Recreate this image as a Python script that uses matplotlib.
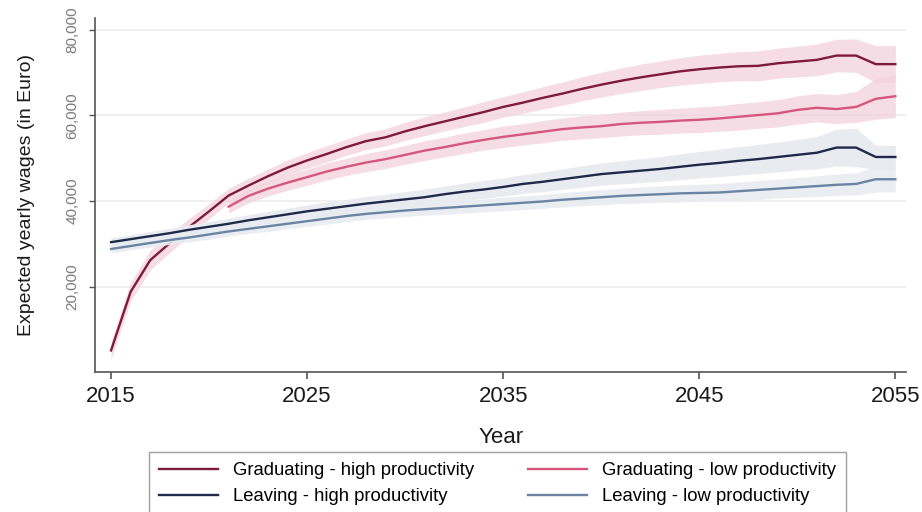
import numpy as np
import matplotlib
matplotlib.use('Agg')
import matplotlib.pyplot as plt
from matplotlib.ticker import FuncFormatter

plt.rcParams['font.family'] = ['Liberation Sans', 'DejaVu Sans']

# data (euro per year)
years = list(range(2015, 2056))
years_grad_low = list(range(2021, 2056))

grad_high = [5100, 18800, 26200, 30200, 34000, 37600, 41300, 43600, 45800, 47800,
             49500, 51000, 52600, 54000, 54900, 56300, 57500, 58600, 59700, 60800,
             62000, 63000, 64100, 65100, 66200, 67200, 68100, 68900, 69600, 70300,
             70800, 71200, 71500, 71600, 72200, 72600, 73000, 74000, 74000, 72000,
             72000]
grad_high_hw = [2000, 2200, 2300, 2200, 2000, 1800, 1700, 1700, 1700, 1800,
                1800, 1900, 1900, 2000, 2000, 2100, 2200, 2200, 2300, 2400,
                2400, 2500, 2600, 2700, 2800, 2900, 3000, 3100, 3100, 3200,
                3300, 3300, 3400, 3500, 3500, 3600, 3700, 3800, 3900, 4300,
                4400]

grad_low = [38700, 41200, 42900, 44300, 45600, 46900, 48000, 49000, 49800, 50800,
            51800, 52600, 53500, 54300, 55000, 55600, 56200, 56800, 57200, 57500,
            58000, 58300, 58500, 58800, 59000, 59300, 59700, 60100, 60500, 61300,
            61800, 61500, 62000, 63900, 64500]
grad_low_hw = [1500, 1600, 1700, 1800, 1900, 2000, 2000, 2100, 2200, 2200,
               2300, 2300, 2400, 2400, 2500, 2500, 2600, 2600, 2700, 2700,
               2800, 2800, 2900, 2900, 3000, 3000, 3100, 3100, 3200, 3300,
               3300, 3400, 3600, 4800, 5000]

leave_high = [30400, 31100, 31800, 32500, 33300, 34000, 34700, 35500, 36200, 36900,
              37600, 38200, 38800, 39400, 39900, 40400, 40900, 41600, 42200, 42700,
              43300, 44000, 44500, 45100, 45700, 46300, 46700, 47100, 47500, 48000,
              48500, 48900, 49400, 49800, 50300, 50800, 51300, 52500, 52500, 50300,
              50300]
leave_high_hw = [1000, 1000, 1100, 1100, 1200, 1200, 1300, 1300, 1400, 1400,
                 1500, 1600, 1600, 1700, 1700, 1800, 1900, 1900, 2000, 2100,
                 2100, 2200, 2300, 2400, 2500, 2600, 2700, 2800, 2900, 3000,
                 3100, 3200, 3300, 3400, 3500, 3600, 3800, 4300, 4500, 2800,
                 2700]

leave_low = [28800, 29500, 30200, 30900, 31500, 32200, 32900, 33500, 34100, 34700,
             35300, 35900, 36500, 37000, 37400, 37800, 38100, 38400, 38700, 39000,
             39300, 39600, 39900, 40300, 40600, 40900, 41200, 41400, 41600, 41800,
             41900, 42000, 42300, 42600, 42900, 43200, 43500, 43800, 44000, 45100,
             45100]
leave_low_hw = [900, 900, 1000, 1000, 1000, 1100, 1100, 1100, 1200, 1200,
                1200, 1300, 1300, 1300, 1400, 1400, 1400, 1500, 1500, 1500,
                1600, 1600, 1600, 1700, 1700, 1800, 1800, 1900, 1900, 2000,
                2000, 2100, 2100, 2200, 2200, 2300, 2400, 2500, 2600, 3000,
                3000]

labels = ['Graduating - high productivity', 'Graduating - low productivity',
          'Leaving - high productivity', 'Leaving - low productivity']
line_colors = ['#7e1a3c', '#d5577e', '#1e2a48', '#6c84a4']
pink_band = '#f4d4de'
blue_band = '#e8ecf1'


def band(ax, x, y, hw, color, z, alpha=1.0):
    y = np.array(y)
    hw = np.array(hw)
    ax.fill_between(x, y - hw, y + hw, color=color, lw=0, zorder=z, alpha=alpha)


fig = plt.figure(figsize=(9.22, 5.12), dpi=100)
ax = fig.add_axes([0.103, 0.273, 0.880, 0.692])

band(ax, years, grad_high, grad_high_hw, pink_band, 1, alpha=0.8)
band(ax, years_grad_low, grad_low, grad_low_hw, pink_band, 1, alpha=0.8)
h1, = ax.plot(years, grad_high, color=line_colors[0], lw=1.7, zorder=3)
h2, = ax.plot(years_grad_low, grad_low, color=line_colors[1], lw=1.7, zorder=3)

# the leaving bands sit on top of the graduating lines, as in the original
band(ax, years, leave_high, leave_high_hw, blue_band, 4)
band(ax, years, leave_low, leave_low_hw, blue_band, 4, alpha=0.9)
h3, = ax.plot(years, leave_high, color=line_colors[2], lw=1.7, zorder=5)
h4, = ax.plot(years, leave_low, color=line_colors[3], lw=1.7, zorder=5)

ax.set_xlim(2014.18, 2055.56)
ax.set_ylim(0, 82800)
ax.set_xticks([2015, 2025, 2035, 2045, 2055])
ax.set_yticks([20000, 40000, 60000, 80000])
ax.yaxis.set_major_formatter(FuncFormatter(lambda v, p: f'{int(v):,}'))

ax.grid(axis='y', color='#efefef', lw=1.4, zorder=0)
ax.set_axisbelow(True)
for s in ['top', 'right']:
    ax.spines[s].set_visible(False)
for s in ['left', 'bottom']:
    ax.spines[s].set_color('#555555')
    ax.spines[s].set_linewidth(1.2)

ax.tick_params(axis='x', length=5, width=1.2, color='#555555', labelsize=16,
               labelcolor='#1a1a1a', pad=5)
ax.tick_params(axis='y', length=4, width=1.0, color='#555555', labelsize=11,
               labelcolor='#7a7a7a', pad=7)
for t in ax.get_yticklabels():
    t.set_rotation(90)
    t.set_va('center')

ax.set_xlabel('Year', fontsize=16, color='#1a1a1a', labelpad=14)
ax.set_ylabel('Expected yearly wages (in Euro)', fontsize=14, color='#1a1a1a', labelpad=22)

# row-wise order in a two column legend
leg = fig.legend([h1, h3, h2, h4], [labels[0], labels[2], labels[1], labels[3]],
                 ncol=2, loc='upper left', bbox_to_anchor=(149 / 922, 1 - 452 / 512),
                 fontsize=13.3, handlelength=3.2, handletextpad=0.8,
                 frameon=True, fancybox=False, borderaxespad=0,
                 columnspacing=2.9, labelspacing=0.5, borderpad=0.55)
leg.get_frame().set_edgecolor('#888888')
leg.get_frame().set_linewidth(1.0)

fig.savefig('out.png', dpi=100)
